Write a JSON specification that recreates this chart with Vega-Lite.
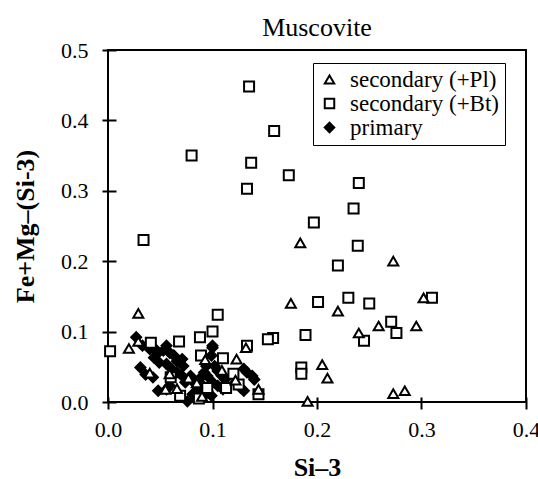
{
  "$schema": "https://vega.github.io/schema/vega-lite/v6.json",
  "autosize": {"type": "none"},
  "width": 418,
  "height": 352,
  "padding": {"left": 108, "top": 50, "right": 12, "bottom": 77},
  "background": "white",
  "title": {"text": "Muscovite", "font": "Liberation Serif, Times New Roman, serif", "fontSize": 26, "fontWeight": "normal", "color": "black", "anchor": "middle", "offset": -2},
  "datasets": {
    "pts": [
      {"type": "primary", "si3": 0.027, "femg": 0.092},
      {"type": "primary", "si3": 0.033, "femg": 0.080},
      {"type": "primary", "si3": 0.040, "femg": 0.075},
      {"type": "primary", "si3": 0.044, "femg": 0.077},
      {"type": "primary", "si3": 0.048, "femg": 0.070},
      {"type": "primary", "si3": 0.053, "femg": 0.073},
      {"type": "primary", "si3": 0.056, "femg": 0.080},
      {"type": "primary", "si3": 0.059, "femg": 0.070},
      {"type": "primary", "si3": 0.063, "femg": 0.066},
      {"type": "primary", "si3": 0.066, "femg": 0.058},
      {"type": "primary", "si3": 0.071, "femg": 0.061},
      {"type": "primary", "si3": 0.072, "femg": 0.051},
      {"type": "primary", "si3": 0.044, "femg": 0.063},
      {"type": "primary", "si3": 0.049, "femg": 0.056},
      {"type": "primary", "si3": 0.056, "femg": 0.054},
      {"type": "primary", "si3": 0.061, "femg": 0.047},
      {"type": "primary", "si3": 0.066, "femg": 0.042},
      {"type": "primary", "si3": 0.031, "femg": 0.049},
      {"type": "primary", "si3": 0.036, "femg": 0.039},
      {"type": "primary", "si3": 0.043, "femg": 0.035},
      {"type": "primary", "si3": 0.048, "femg": 0.016},
      {"type": "primary", "si3": 0.056, "femg": 0.018},
      {"type": "primary", "si3": 0.059, "femg": 0.023},
      {"type": "primary", "si3": 0.076, "femg": 0.001},
      {"type": "primary", "si3": 0.081, "femg": 0.011},
      {"type": "primary", "si3": 0.086, "femg": 0.018},
      {"type": "primary", "si3": 0.087, "femg": 0.032},
      {"type": "primary", "si3": 0.092, "femg": 0.042},
      {"type": "primary", "si3": 0.095, "femg": 0.037},
      {"type": "primary", "si3": 0.100, "femg": 0.077},
      {"type": "primary", "si3": 0.099, "femg": 0.066},
      {"type": "primary", "si3": 0.094, "femg": 0.051},
      {"type": "primary", "si3": 0.102, "femg": 0.051},
      {"type": "primary", "si3": 0.105, "femg": 0.044},
      {"type": "primary", "si3": 0.109, "femg": 0.037},
      {"type": "primary", "si3": 0.100, "femg": 0.028},
      {"type": "primary", "si3": 0.105, "femg": 0.023},
      {"type": "primary", "si3": 0.110, "femg": 0.018},
      {"type": "primary", "si3": 0.095, "femg": 0.016},
      {"type": "primary", "si3": 0.091, "femg": 0.023},
      {"type": "primary", "si3": 0.092, "femg": 0.009},
      {"type": "primary", "si3": 0.099, "femg": 0.009},
      {"type": "primary", "si3": 0.082, "femg": 0.028},
      {"type": "primary", "si3": 0.079, "femg": 0.037},
      {"type": "primary", "si3": 0.130, "femg": 0.047},
      {"type": "primary", "si3": 0.133, "femg": 0.042},
      {"type": "primary", "si3": 0.138, "femg": 0.037},
      {"type": "primary", "si3": 0.140, "femg": 0.032},
      {"type": "primary", "si3": 0.127, "femg": 0.020},
      {"type": "primary", "si3": 0.130, "femg": 0.016},
      {"type": "primary", "si3": 0.122, "femg": 0.028},
      {"type": "primary", "si3": 0.112, "femg": 0.032},
      {"type": "primary", "si3": 0.071, "femg": 0.037},
      {"type": "primary", "si3": 0.074, "femg": 0.028},
      {"type": "primary", "si3": 0.100, "femg": 0.080},
      {"type": "secondary (+Bt)", "si3": 0.135, "femg": 0.448},
      {"type": "secondary (+Bt)", "si3": 0.159, "femg": 0.385},
      {"type": "secondary (+Bt)", "si3": 0.080, "femg": 0.350},
      {"type": "secondary (+Bt)", "si3": 0.137, "femg": 0.340},
      {"type": "secondary (+Bt)", "si3": 0.173, "femg": 0.322},
      {"type": "secondary (+Bt)", "si3": 0.133, "femg": 0.303},
      {"type": "secondary (+Bt)", "si3": 0.240, "femg": 0.311},
      {"type": "secondary (+Bt)", "si3": 0.235, "femg": 0.275},
      {"type": "secondary (+Bt)", "si3": 0.197, "femg": 0.255},
      {"type": "secondary (+Bt)", "si3": 0.034, "femg": 0.230},
      {"type": "secondary (+Bt)", "si3": 0.239, "femg": 0.222},
      {"type": "secondary (+Bt)", "si3": 0.220, "femg": 0.194},
      {"type": "secondary (+Bt)", "si3": 0.201, "femg": 0.142},
      {"type": "secondary (+Bt)", "si3": 0.230, "femg": 0.148},
      {"type": "secondary (+Bt)", "si3": 0.250, "femg": 0.140},
      {"type": "secondary (+Bt)", "si3": 0.310, "femg": 0.148},
      {"type": "secondary (+Bt)", "si3": 0.271, "femg": 0.114},
      {"type": "secondary (+Bt)", "si3": 0.276, "femg": 0.098},
      {"type": "secondary (+Bt)", "si3": 0.245, "femg": 0.087},
      {"type": "secondary (+Bt)", "si3": 0.189, "femg": 0.095},
      {"type": "secondary (+Bt)", "si3": 0.185, "femg": 0.049},
      {"type": "secondary (+Bt)", "si3": 0.185, "femg": 0.040},
      {"type": "secondary (+Bt)", "si3": 0.158, "femg": 0.091},
      {"type": "secondary (+Bt)", "si3": 0.153, "femg": 0.089},
      {"type": "secondary (+Bt)", "si3": 0.105, "femg": 0.124},
      {"type": "secondary (+Bt)", "si3": 0.100, "femg": 0.100},
      {"type": "secondary (+Bt)", "si3": 0.088, "femg": 0.092},
      {"type": "secondary (+Bt)", "si3": 0.068, "femg": 0.086},
      {"type": "secondary (+Bt)", "si3": 0.002, "femg": 0.072},
      {"type": "secondary (+Bt)", "si3": 0.041, "femg": 0.084},
      {"type": "secondary (+Bt)", "si3": 0.133, "femg": 0.080},
      {"type": "secondary (+Bt)", "si3": 0.110, "femg": 0.062},
      {"type": "secondary (+Bt)", "si3": 0.089, "femg": 0.066},
      {"type": "secondary (+Bt)", "si3": 0.069, "femg": 0.009},
      {"type": "secondary (+Bt)", "si3": 0.144, "femg": 0.011},
      {"type": "secondary (+Bt)", "si3": 0.087, "femg": 0.005},
      {"type": "secondary (+Bt)", "si3": 0.120, "femg": 0.040},
      {"type": "secondary (+Bt)", "si3": 0.125, "femg": 0.025},
      {"type": "secondary (+Bt)", "si3": 0.095, "femg": 0.020},
      {"type": "secondary (+Bt)", "si3": 0.060, "femg": 0.035},
      {"type": "secondary (+Bt)", "si3": 0.113, "femg": 0.020},
      {"type": "secondary (+Pl)", "si3": 0.184, "femg": 0.226},
      {"type": "secondary (+Pl)", "si3": 0.273, "femg": 0.200},
      {"type": "secondary (+Pl)", "si3": 0.175, "femg": 0.140},
      {"type": "secondary (+Pl)", "si3": 0.220, "femg": 0.129},
      {"type": "secondary (+Pl)", "si3": 0.302, "femg": 0.148},
      {"type": "secondary (+Pl)", "si3": 0.295, "femg": 0.108},
      {"type": "secondary (+Pl)", "si3": 0.259, "femg": 0.108},
      {"type": "secondary (+Pl)", "si3": 0.240, "femg": 0.098},
      {"type": "secondary (+Pl)", "si3": 0.205, "femg": 0.053},
      {"type": "secondary (+Pl)", "si3": 0.210, "femg": 0.034},
      {"type": "secondary (+Pl)", "si3": 0.191, "femg": 0.001},
      {"type": "secondary (+Pl)", "si3": 0.273, "femg": 0.012},
      {"type": "secondary (+Pl)", "si3": 0.284, "femg": 0.016},
      {"type": "secondary (+Pl)", "si3": 0.029, "femg": 0.126},
      {"type": "secondary (+Pl)", "si3": 0.020, "femg": 0.076},
      {"type": "secondary (+Pl)", "si3": 0.029, "femg": 0.086},
      {"type": "secondary (+Pl)", "si3": 0.132, "femg": 0.077},
      {"type": "secondary (+Pl)", "si3": 0.123, "femg": 0.061},
      {"type": "secondary (+Pl)", "si3": 0.093, "femg": 0.060},
      {"type": "secondary (+Pl)", "si3": 0.040, "femg": 0.041},
      {"type": "secondary (+Pl)", "si3": 0.059, "femg": 0.040},
      {"type": "secondary (+Pl)", "si3": 0.077, "femg": 0.034},
      {"type": "secondary (+Pl)", "si3": 0.085, "femg": 0.027},
      {"type": "secondary (+Pl)", "si3": 0.066, "femg": 0.019},
      {"type": "secondary (+Pl)", "si3": 0.109, "femg": 0.045},
      {"type": "secondary (+Pl)", "si3": 0.122, "femg": 0.031},
      {"type": "secondary (+Pl)", "si3": 0.144, "femg": 0.018},
      {"type": "secondary (+Pl)", "si3": 0.055, "femg": 0.018},
      {"type": "secondary (+Pl)", "si3": 0.090, "femg": 0.008}
    ]
  },
  "data": {"name": "pts"},
  "mark": {"type": "point", "filled": true, "strokeWidth": 2, "size": 100, "opacity": 1},
  "encoding": {
    "x": {"field": "si3", "type": "quantitative", "scale": {"domain": [0, 0.4], "nice": false, "zero": false},
      "axis": {"title": "Si–3", "values": [0, 0.1, 0.2, 0.3, 0.4], "format": ".1f", "offset": -5, "tickSize": 12, "labelPadding": 10, "titlePadding": 14, "labelFlush": false}},
    "y": {"field": "femg", "type": "quantitative", "scale": {"domain": [0, 0.5], "nice": false, "zero": false},
      "axis": {"title": "Fe+Mg–(Si-3)", "values": [0, 0.1, 0.2, 0.3, 0.4, 0.5], "format": ".1f", "offset": -8, "tickSize": 14, "labelPadding": 14, "titlePadding": 22, "labelFlush": false}},
    "shape": {"field": "type", "type": "nominal", "title": null,
      "scale": {"domain": ["secondary (+Pl)", "secondary (+Bt)", "primary"], "range": ["triangle-up", "square", "diamond"]}},
    "fill": {"field": "type", "type": "nominal", "title": null,
      "scale": {"domain": ["secondary (+Pl)", "secondary (+Bt)", "primary"], "range": ["white", "white", "black"]}},
    "stroke": {"field": "type", "type": "nominal", "title": null,
      "scale": {"domain": ["secondary (+Pl)", "secondary (+Bt)", "primary"], "range": ["black", "black", "black"]}}
  },
  "config": {
    "view": {"stroke": "black", "strokeWidth": 2},
    "axis": {
      "domain": false, "grid": false,
      "tickColor": "black", "tickWidth": 2,
      "labelFont": "Liberation Serif, Times New Roman, serif", "labelFontSize": 22, "labelColor": "black",
      "titleFont": "Liberation Serif, Times New Roman, serif", "titleFontSize": 26, "titleFontWeight": "bold", "titleColor": "black"
    },
    "legend": {
      "orient": "none", "legendX": 205, "legendY": 13,
      "strokeColor": "black", "fillColor": "white", "padding": 5,
      "labelFont": "Liberation Serif, Times New Roman, serif", "labelFontSize": 23, "labelColor": "black",
      "symbolSize": 90, "symbolStrokeWidth": 2, "symbolStrokeColor": "black",
      "rowPadding": 0, "labelOffset": 9, "labelLimit": 300
    }
  }
}
